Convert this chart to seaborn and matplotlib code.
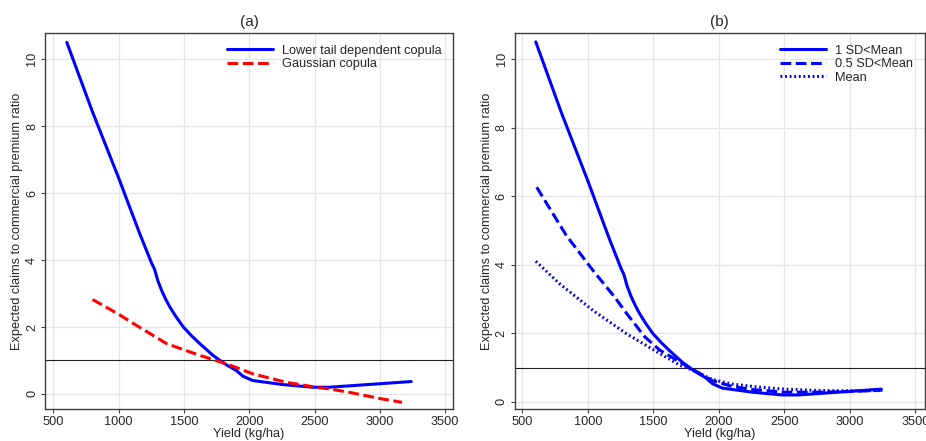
import matplotlib
matplotlib.use("Agg")
import matplotlib.pyplot as plt
import seaborn as sns

# ---------------- data ----------------
# Panel (a)
ltd_x = [603, 800, 1000, 1160, 1254, 1275, 1300, 1330, 1360, 1393, 1440, 1495, 1560,
         1622, 1723, 1812, 1901, 1951, 2027, 2256, 2484, 2611, 3240]
ltd_y = [10.5, 8.42, 6.45, 4.8, 3.89, 3.72, 3.38, 3.08, 2.83, 2.59, 2.30, 2.0, 1.73,
         1.50, 1.15, 0.90, 0.70, 0.53, 0.40, 0.28, 0.20, 0.20, 0.37]
gauss_x = [800, 1000, 1114, 1368, 1622, 1825, 2027, 2281, 2509, 2611, 2763, 3017, 3169]
gauss_y = [2.82, 2.38, 2.10, 1.50, 1.15, 0.90, 0.60, 0.35, 0.20, 0.15, 0.05, -0.15, -0.25]

# Panel (b)
sd1_x = ltd_x
sd1_y = ltd_y
sd05_x = [610, 835, 1038, 1204, 1306, 1434, 1549, 1676, 1800, 1950, 2100, 2250,
          2500, 2750, 3000, 3250]
sd05_y = [6.26, 4.86, 3.84, 3.06, 2.53, 1.90, 1.51, 1.22, 0.95, 0.62, 0.45, 0.36,
          0.28, 0.28, 0.30, 0.34]
mean_x = [603, 783, 1038, 1294, 1549, 1702, 1800, 1950, 2100, 2300, 2500, 2750, 3000, 3250]
mean_y = [4.10, 3.45, 2.67, 1.99, 1.41, 1.07, 0.92, 0.65, 0.52, 0.43, 0.37, 0.33, 0.32, 0.33]

titles = ["(a)", "(b)"]
xlabel = "Yield (kg/ha)"
ylabel = "Expected claims to commercial premium ratio"
xticks = [500, 1000, 1500, 2000, 2500, 3000, 3500]
yticks = [0, 2, 4, 6, 8, 10]
labels_a = ["Lower tail dependent copula", "Gaussian copula"]
labels_b = ["1 SD<Mean", "0.5 SD<Mean", "Mean"]

# ---------------- style ----------------
sns.set_style("whitegrid")
plt.rcParams["font.family"] = ["Liberation Sans", "DejaVu Sans"]
FS = 9.2

W, H = 926, 441
fig = plt.figure(figsize=(W / 100, H / 100), dpi=100)

ax_a = fig.add_axes([45 / W, (H - 409) / H, (453 - 45) / W, (409 - 33) / H])
ax_b = fig.add_axes([514.7 / W, (H - 409) / H, (924.7 - 514.7) / W, (409 - 33) / H])

BLUE = "#0000ff"
RED = "#ff0000"
LW = 2.2

sns.lineplot(x=ltd_x, y=ltd_y, ax=ax_a, color=BLUE, lw=LW, label=labels_a[0], sort=False)
sns.lineplot(x=gauss_x, y=gauss_y, ax=ax_a, color=RED, lw=LW, label=labels_a[1], sort=False,
             linestyle=(0, (3.5, 1.5)))

sns.lineplot(x=sd1_x, y=sd1_y, ax=ax_b, color=BLUE, lw=LW, label=labels_b[0], sort=False)
sns.lineplot(x=sd05_x, y=sd05_y, ax=ax_b, color=BLUE, lw=LW, label=labels_b[1], sort=False,
             linestyle=(0, (3.5, 1.5)))
sns.lineplot(x=mean_x, y=mean_y, ax=ax_b, color=BLUE, lw=LW, label=labels_b[2], sort=False,
             linestyle=(0, (0.6, 0.9)))

limits = {0: ((436, 3560), (-0.45, 10.78)), 1: ((442, 3572), (-0.21, 10.76))}

for i, ax in enumerate([ax_a, ax_b]):
    ax.set_facecolor("white")
    ax.axhline(1, color="#222222", lw=0.8, zorder=1)
    ax.set_xlim(*limits[i][0])
    ax.set_ylim(*limits[i][1])
    ax.set_xticks(xticks)
    ax.set_yticks(yticks)
    ax.grid(True, color="#e6e6e6", lw=1.0)
    ax.set_axisbelow(True)
    for s in ax.spines.values():
        s.set_color("#404040")
        s.set_linewidth(1.0)
    ax.tick_params(axis="both", which="major", length=3, width=0.8, color="#404040",
                   labelsize=FS, pad=2, bottom=True, left=True)
    ax.tick_params(axis="y", labelrotation=90)
    for t in ax.get_yticklabels():
        t.set_va("center")
    ax.set_xlabel(xlabel, fontsize=FS, labelpad=0)
    ax.set_ylabel(ylabel, fontsize=FS, labelpad=2)
    ax.set_title(titles[i], fontsize=11, pad=5)
    leg = ax.legend(loc="upper right", frameon=False, fontsize=FS, handlelength=3.6,
                    labelspacing=0.12, handletextpad=0.7, borderaxespad=0.5,
                    bbox_to_anchor=(1.0, 1.0))
    for ln in leg.get_lines():
        ln.set_linewidth(LW)

fig.savefig("out.png", dpi=100)
